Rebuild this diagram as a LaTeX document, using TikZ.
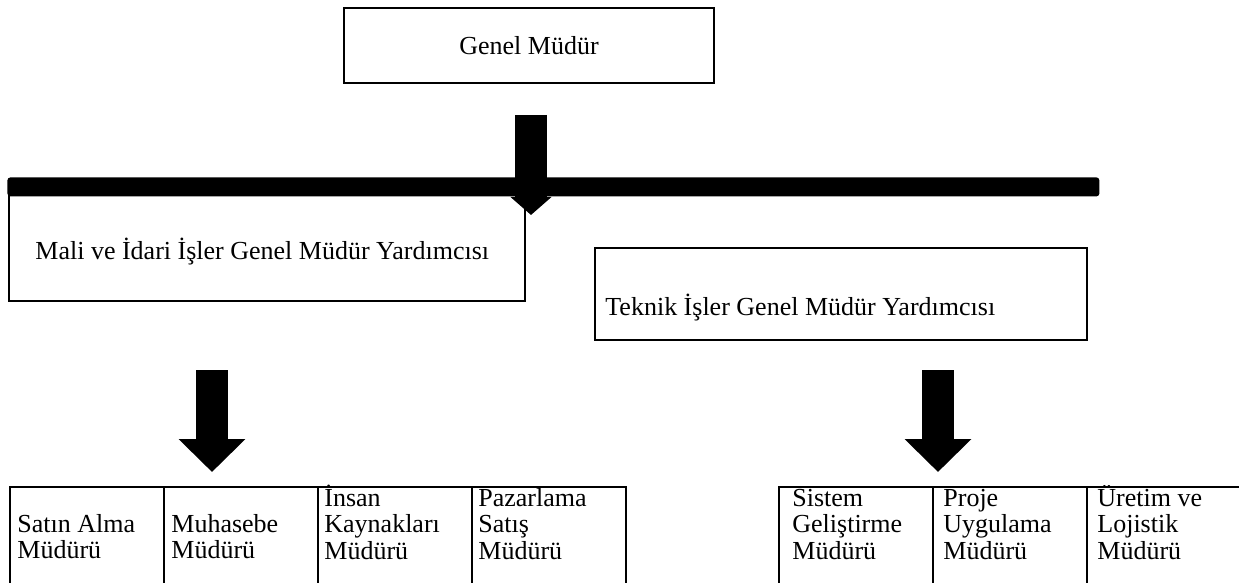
\documentclass[tikz,border=0pt]{standalone}
\usepackage{fontspec}
\setmainfont{Liberation Serif}
\usetikzlibrary{arrows.meta}

\newcommand{\cellines}[1]{\begin{tabular}[t]{@{}l@{}}#1\end{tabular}}

\begin{document}
\begin{tikzpicture}[x=0.5pt, y=-0.5pt,
    every node/.style={font=\fontsize{13}{13.25}\selectfont},
    orgbox/.style={draw, line width=1pt, inner sep=0pt, anchor=north west},
    tablecell/.style={draw, line width=1pt, inner sep=0pt, anchor=north west, minimum width=77pt, minimum height=60pt},
    boxtext/.style={inner sep=0pt, anchor=base west},
    fatarrow/.style={line width=16pt, -{Triangle[width=32.5pt, length=16.5pt]}},
    slimhead/.style={line width=16pt, -{Triangle[width=20pt, length=9pt]}}]

    \useasboundingbox (0,0) rectangle (1239,583);

    \node[orgbox, minimum width=185pt, minimum height=37.5pt] (gm) at (343,7) {Genel Müdür};

    \node[orgbox, minimum width=258pt, minimum height=55pt] (mali) at (8,190) {};
    \node[boxtext] (maliText) at (35,260) {Mali ve İdari İşler Genel Müdür Yardımcısı};

    \node[orgbox, minimum width=246pt, minimum height=46pt] (teknik) at (594,247) {};
    \node[boxtext] (teknikText) at (605,315) {Teknik İşler Genel Müdür Yardımcısı};

    \node[fill, rounded corners=1.5pt, inner sep=0pt, anchor=north west, minimum width=546pt, minimum height=9.5pt] (bar) at (7,177) {};

    \coordinate (gmTip) at (531,215);
    \draw[slimhead, shorten <=15.5pt] (gm.south -| gmTip) -- (gmTip);

    \coordinate (maliTip) at (212,472);
    \draw[fatarrow, shorten <=34pt] (mali.south -| maliTip) -- (maliTip);
    \coordinate (teknikTip) at (938,472);
    \draw[fatarrow, shorten <=14.5pt] (teknik.south -| teknikTip) -- (teknikTip);

    \node[tablecell] (satin) at (9,486) {};
    \node[tablecell] (muhasebe) at (163,486) {};
    \node[tablecell] (insan) at (317,486) {};
    \node[tablecell] (pazarlama) at (471,486) {};
    \node[boxtext] (satinText) at (17,532) {\cellines{Satın Alma\\Müdürü}};
    \node[boxtext] (muhasebeText) at (171,532) {\cellines{Muhasebe\\Müdürü}};
    \node[boxtext] (insanText) at (324,506) {\cellines{İnsan\\Kaynakları\\Müdürü}};
    \node[boxtext] (pazarlamaText) at (478,506) {\cellines{Pazarlama\\Satış\\Müdürü}};

    \node[tablecell] (sistem) at (778,486) {};
    \node[tablecell] (proje) at (932,486) {};
    \node[tablecell, minimum width=80pt] (uretim) at (1086,486) {};
    \node[boxtext] (sistemText) at (792,506) {\cellines{Sistem\\Geliştirme\\Müdürü}};
    \node[boxtext] (projeText) at (943,506) {\cellines{Proje\\Uygulama\\Müdürü}};
    \node[boxtext] (uretimText) at (1097,506) {\cellines{Üretim ve\\Lojistik\\Müdürü}};

\end{tikzpicture}
\end{document}
